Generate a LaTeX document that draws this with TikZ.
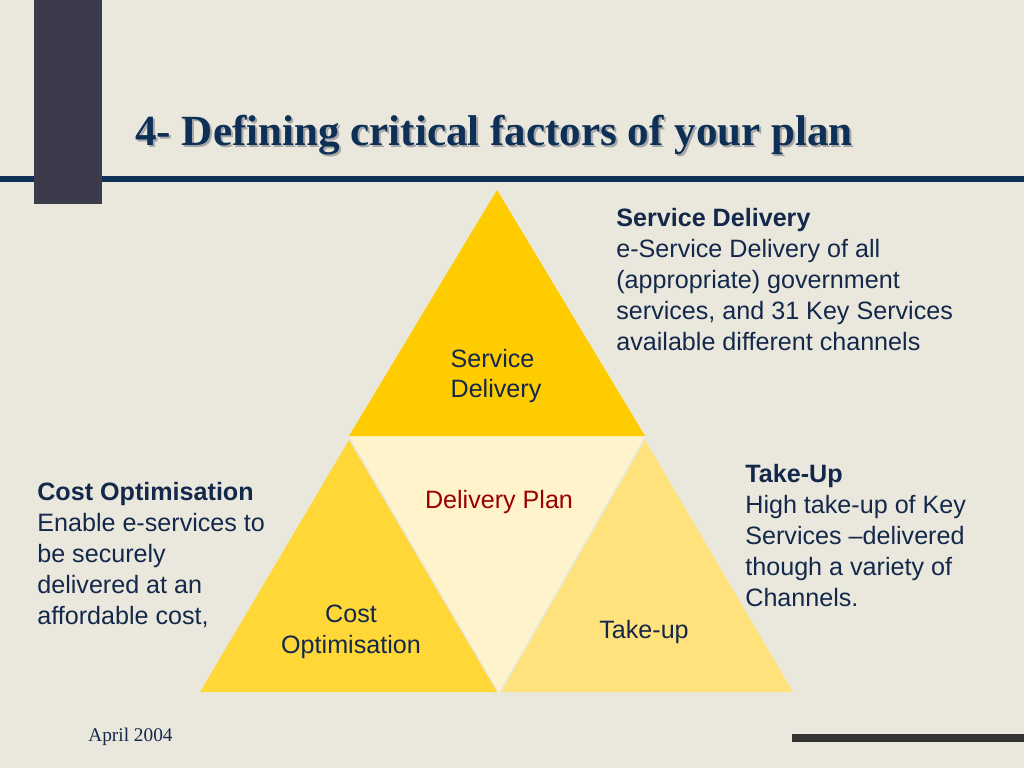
\documentclass[tikz,border=0pt]{standalone}
\usepackage{fontspec}
\setmainfont{Liberation Serif}
\setsansfont{Liberation Sans}
\usetikzlibrary{positioning, calc}
\definecolor{PaperBeige}{HTML}{EAE8DD}
\definecolor{SlateBar}{HTML}{3B3B4C}
\definecolor{RuleNavy}{HTML}{0E2F56}
\definecolor{InkNavy}{HTML}{13284A}
\definecolor{GoldTop}{HTML}{FFCC00}
\definecolor{GoldLeft}{HTML}{FFD837}
\definecolor{GoldRight}{HTML}{FFE27C}
\definecolor{CreamMid}{HTML}{FFF3CC}
\definecolor{PlanRed}{HTML}{990000}
\definecolor{FootGray}{HTML}{333333}

\begin{document}
\begin{tikzpicture}[
    x=0.02cm, y=-0.02cm,
    label/.style={font=\sffamily\fontsize{14.3}{17.6}\selectfont, text=InkNavy,
                  inner sep=0pt},
    note/.style={font=\sffamily\fontsize{14.3}{17.6}\selectfont, text=InkNavy,
                 inner sep=0pt, align=left, anchor=north west}
]
    % Slide background and frame
    \fill[PaperBeige] (0,0) rectangle (1024,768);
    \useasboundingbox (0,0) rectangle (1024,768);
    \fill[RuleNavy] (0,176) rectangle (1024,182);
    \fill[SlateBar] (34,0) rectangle (102,204);
    \fill[FootGray] (792,734) rectangle (1024,742);

    % Title with shadow
    \node[anchor=base west, inner sep=0pt, text=black!35,
          font=\bfseries\fontsize{24.5}{28}\selectfont] (titleshade) at (137,147)
          {4- Defining critical factors of your plan};
    \node[anchor=base west, inner sep=0pt, text=RuleNavy,
          font=\bfseries\fontsize{24.5}{28}\selectfont] (title) at (135,145)
          {4- Defining critical factors of your plan};

    % Triangle facets
    \coordinate (apex) at (497,190);
    \coordinate (midL) at (349,436);
    \coordinate (midR) at (645,436);
    \coordinate (baseL) at (200,692);
    \coordinate (baseM) at (499,692);
    \coordinate (baseR) at (793,692);
    \fill[CreamMid] (midL) -- (midR) -- (baseM) -- cycle;
    \fill[GoldTop] (apex) -- (midR) -- (midL) -- cycle;
    \fill[GoldLeft] (349,440) -- (497,692) -- (baseL) -- cycle;
    \fill[GoldRight] (645,440) -- (baseR) -- (501,692) -- cycle;

    % Facet labels
    \node[label, align=left] (sd) at (496,376) {Service\\Delivery};
    \node[label, text=PlanRed] (plan) at (499,502) {Delivery Plan};
    \node[label, align=center] (co) at (351,632) {Cost\\Optimisation};
    \node[label] (tu) at (644,632) {Take-up};

    % Side notes
    \node[note] (sdnote) at (616,208) {\textbf{Service Delivery}\\
        e-Service Delivery of all\\(appropriate) government\\
        services, and 31 Key Services\\available different channels};
    \node[note] (tunote) at (745,464) {\textbf{Take-Up}\\
        High take-up of Key\\Services --delivered\\
        though a variety of\\Channels.};
    \node[note] (conote) at (37,482) {\textbf{Cost Optimisation}\\
        Enable e-services to\\be securely\\
        delivered at an\\affordable cost,};

    % Footer
    \node[anchor=base west, inner sep=0pt, text=InkNavy,
          font=\fontsize{11}{13}\selectfont] (date) at (88,741) {April 2004};
\end{tikzpicture}
\end{document}
